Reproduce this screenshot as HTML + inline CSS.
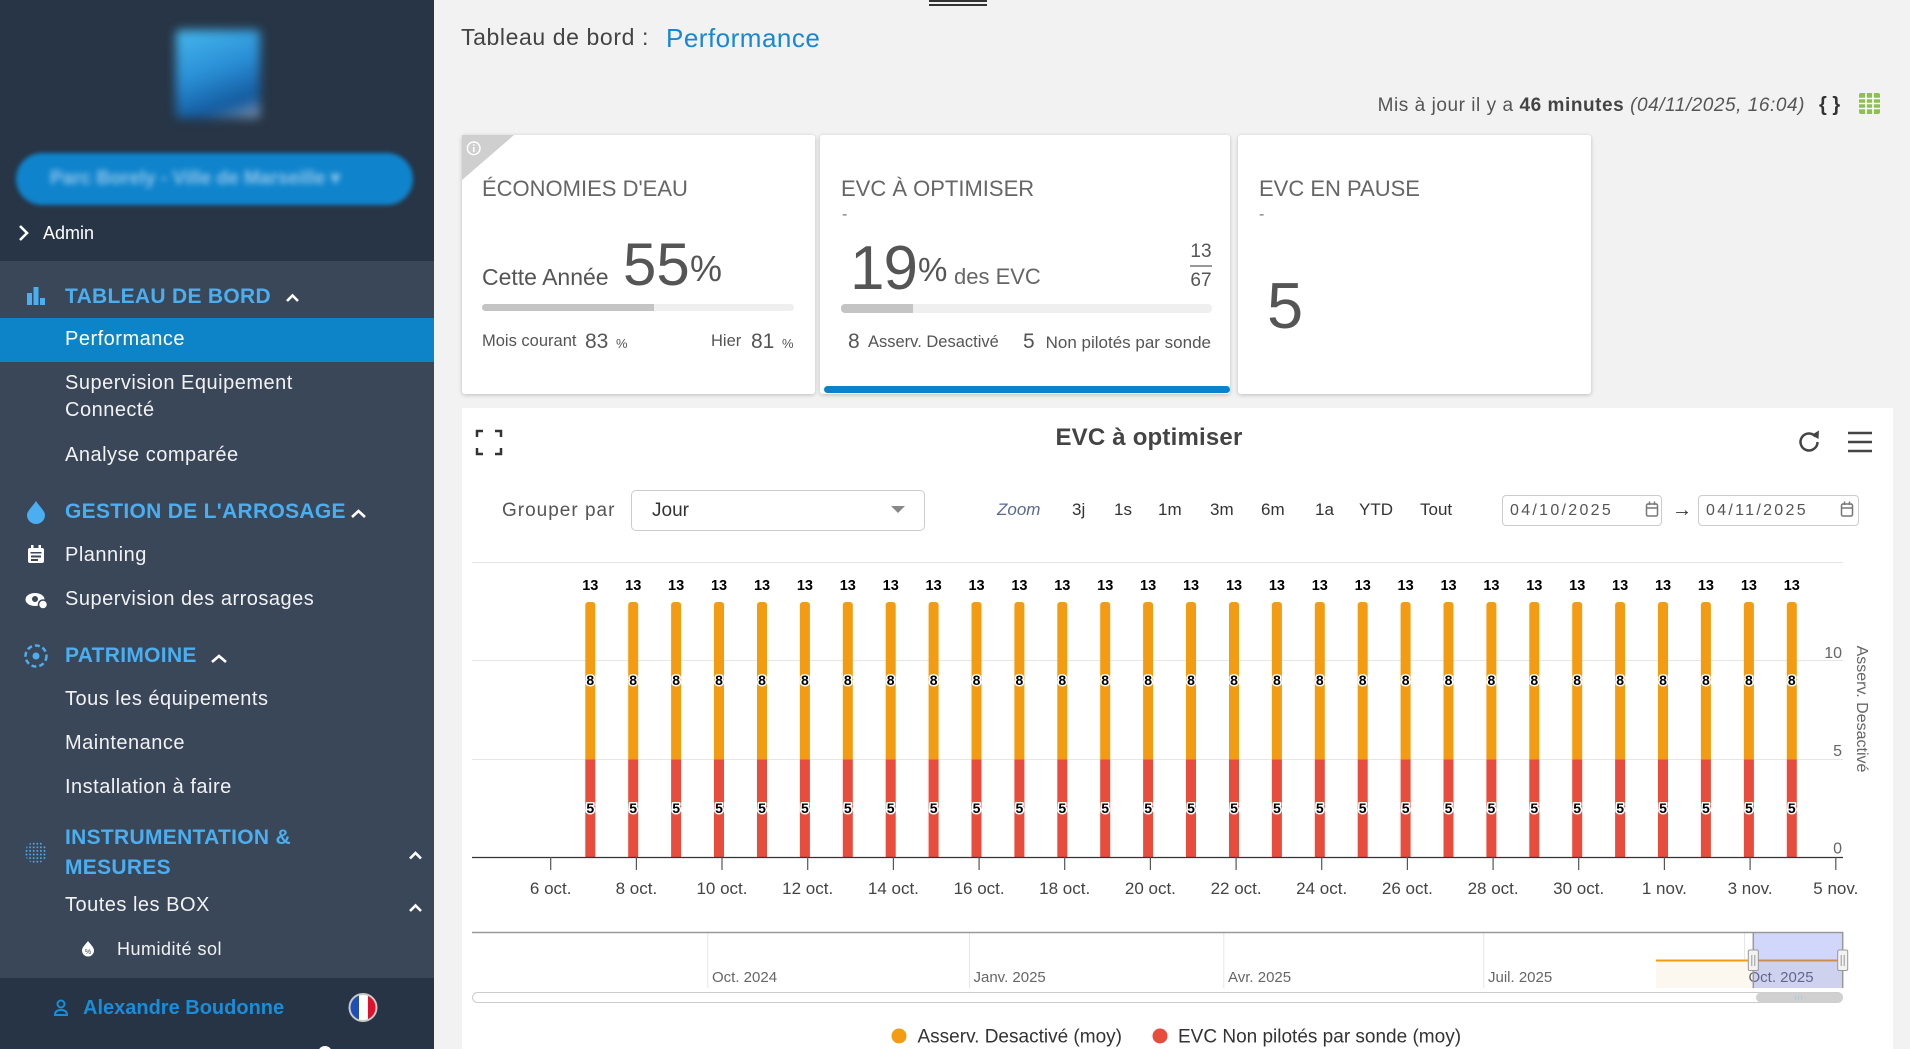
<!DOCTYPE html>
<html><head><meta charset="utf-8">
<style>
*{box-sizing:border-box}
body{margin:0;width:1910px;height:1049px;overflow:hidden;background:#f2f2f2;position:relative;font-family:"Liberation Sans",sans-serif}
.t{position:absolute;line-height:1;white-space:nowrap}
.sb{color:#f2f2f2;font-size:20px;letter-spacing:0.5px;left:65px}
.hd{color:#4aaef0;font-size:21px;font-weight:bold;letter-spacing:0.3px;left:65px}
.card{position:absolute;background:#fff;border-radius:3px;box-shadow:0 1px 4px rgba(0,0,0,0.22)}
.ct{color:#666;font-size:22px}
.z{font-size:17px;color:#333;top:501px}
.box{position:absolute;background:#fff;border:1px solid #ccc;border-radius:5px}
</style></head><body>

<!-- SIDEBAR -->
<div style="position:absolute;left:0;top:0;width:434px;height:1049px;background:#3a4759"></div>
<div style="position:absolute;left:0;top:0;width:434px;height:261px;background:#273546"></div>
<div style="position:absolute;left:0;top:978px;width:434px;height:71px;background:#263445"></div>
<div style="position:absolute;left:0;top:318px;width:434px;height:44px;background:#0d84c8"></div>

<!-- blurred logo -->
<div style="position:absolute;left:176px;top:30px;width:84px;height:88px;background:linear-gradient(160deg,#46b8ee 0%,#2a8fd6 45%,#135a9e 80%,#8a9ab0 100%);filter:blur(5px);border-radius:4px"></div>
<!-- blurred pill -->
<div style="position:absolute;left:16px;top:153px;width:397px;height:52px;background:#0f84cc;border-radius:26px;filter:blur(2px)"></div>
<div class="t" style="left:50px;top:169px;font-size:19px;font-weight:bold;color:rgba(230,240,255,0.6);filter:blur(3px)">Parc Borely - Ville de Marseille ▾</div>

<div class="t" style="left:43px;top:224px;font-size:18px;color:#fff">Admin</div>
<div class="t hd" style="top:286px">TABLEAU DE BORD</div>
<div class="t sb" style="top:329px;color:#fff">Performance</div>
<div class="t sb" style="top:373px">Supervision Equipement</div>
<div class="t sb" style="top:400px">Connecté</div>
<div class="t sb" style="top:445px">Analyse comparée</div>
<div class="t hd" style="top:501px">GESTION DE L'ARROSAGE</div>
<div class="t sb" style="top:545px">Planning</div>
<div class="t sb" style="top:589px">Supervision des arrosages</div>
<div class="t hd" style="top:645px">PATRIMOINE</div>
<div class="t sb" style="top:689px">Tous les équipements</div>
<div class="t sb" style="top:733px">Maintenance</div>
<div class="t sb" style="top:776.5px">Installation à faire</div>
<div class="t hd" style="top:827px">INSTRUMENTATION &amp;</div>
<div class="t hd" style="top:856.5px">MESURES</div>
<div class="t sb" style="top:895px">Toutes les BOX</div>
<div class="t" style="left:117px;top:940px;font-size:18px;letter-spacing:0.5px;color:#f2f2f2">Humidité sol</div>
<div class="t" style="left:83px;top:998px;font-size:20px;font-weight:bold;color:#1a8dd8">Alexandre Boudonne</div>

<svg style="position:absolute;left:0;top:0" width="434" height="1049">
<defs>
<pattern id="dots" width="3.6" height="3.6" patternUnits="userSpaceOnUse"><circle cx="1.3" cy="1.3" r="0.95" fill="#4aaef0"/></pattern>
<clipPath id="flag"><circle cx="363" cy="1007.5" r="13.5"/></clipPath>
</defs>
<polyline points="20,226 27,233 20,240" stroke="#fff" stroke-width="2.6" fill="none"/>
<rect x="27" y="293" width="5" height="12" fill="#4aaef0"/><rect x="33.5" y="287" width="5" height="18" fill="#4aaef0"/><rect x="40" y="298" width="5" height="7" fill="#4aaef0"/>
<polyline points="287,301 292.5,295.5 298,301" stroke="#fff" stroke-width="2.6" fill="none"/>
<path d="M36 501 C33 506 27 511 27 515 A9 9 0 0 0 45 515 C45 511 39 506 36 501Z" fill="#4aaef0"/>
<polyline points="352,517 358.5,511 365,517" stroke="#fff" stroke-width="2.6" fill="none"/>
<g transform="translate(0 2)">
<rect x="28" y="546" width="16" height="15" rx="2" fill="#fff"/><rect x="31" y="543" width="2.5" height="5" fill="#fff"/><rect x="38.5" y="543" width="2.5" height="5" fill="#fff"/>
<rect x="30.5" y="550" width="11" height="1.5" fill="#3a4759"/><rect x="31" y="553.5" width="10" height="2" fill="#3a4759"/><rect x="31" y="557" width="7" height="2" fill="#3a4759"/>
</g>
<g transform="translate(0 4.5)">
<ellipse cx="35" cy="595" rx="9.5" ry="6.5" fill="#fff"/><circle cx="35" cy="594.5" r="3" fill="#3a4759"/><circle cx="43" cy="600" r="4.5" fill="#fff" stroke="#3a4759" stroke-width="1.5"/>
</g>
<circle cx="36" cy="656" r="10.5" stroke="#4aaef0" stroke-width="2.5" stroke-dasharray="5 3" fill="none"/><circle cx="36" cy="656" r="3.5" fill="#4aaef0"/>
<polyline points="212,662 219,656 226,662" stroke="#fff" stroke-width="2.6" fill="none"/>
<circle cx="36" cy="852.5" r="11" fill="url(#dots)"/>
<polyline points="410,858.5 415.5,853 421,858.5" stroke="#fff" stroke-width="2.6" fill="none"/>
<polyline points="410,911 415.5,905.5 421,911" stroke="#fff" stroke-width="2.6" fill="none"/>
<path d="M88 941 C86 944 82 947 82 950.5 A6 6 0 0 0 94 950.5 C94 947 90 944 88 941Z" fill="#fff"/>
<text x="88" y="954" font-size="7" font-family="Liberation Sans" text-anchor="middle" fill="#3a4759">%</text>
<circle cx="61" cy="1004" r="3.5" stroke="#1a8dd8" stroke-width="2" fill="none"/><path d="M55 1015 Q55 1010 61 1010 Q67 1010 67 1015 Z" stroke="#1a8dd8" stroke-width="2" fill="none"/>
<g clip-path="url(#flag)"><rect x="349" y="993" width="10" height="29" fill="#1f4fb5"/><rect x="359" y="993" width="9" height="29" fill="#fff"/><rect x="368" y="993" width="10" height="29" fill="#e0112b"/></g>
<circle cx="363" cy="1007.5" r="13.5" stroke="#c8c8c8" stroke-width="2" fill="none"/>
<circle cx="325" cy="1053" r="7" fill="#fff"/>
</svg>

<!-- MAIN HEADER -->
<div style="position:absolute;left:929px;top:0;width:58px;height:2px;background:#333"></div>
<div style="position:absolute;left:929px;top:4px;width:58px;height:1.5px;background:#333"></div>
<div class="t" style="left:461px;top:26px;font-size:23px;letter-spacing:0.6px;color:#444">Tableau de bord :</div>
<div class="t" style="left:666px;top:25px;font-size:26px;letter-spacing:0.5px;color:#1788d3">Performance</div>
<div class="t" style="right:105px;top:96px;font-size:19px;letter-spacing:0.55px;color:#555">Mis à jour il y a <b style="color:#444">46 minutes</b> <i>(04/11/2025, 16:04)</i></div>
<div class="t" style="left:1819px;top:95px;font-size:20px;font-weight:bold;color:#333">{ }</div>
<svg style="position:absolute;left:1859px;top:93px" width="22" height="22">
<rect x="0" y="0" width="21" height="21" rx="2" fill="#8cc152"/>
<path d="M7 0V21M14 0V21M0 5.5H21M0 10.5H21M0 15.5H21" stroke="#fff" stroke-width="1.6"/>
</svg>

<!-- CARD 1 -->
<div class="card" style="left:462px;top:135px;width:353px;height:259px"></div>
<svg style="position:absolute;left:462px;top:135px" width="60" height="50">
<polygon points="0,0 52,0 0,45" fill="#cfcfcf"/>
<circle cx="11.7" cy="13.3" r="6.3" stroke="#fff" stroke-width="1.5" fill="none"/>
<rect x="11" y="12" width="1.5" height="5" fill="#fff"/><rect x="11" y="9.3" width="1.5" height="1.5" fill="#fff"/>
</svg>
<div class="t ct" style="left:482px;top:178px">ÉCONOMIES D'EAU</div>
<div class="t" style="left:482px;top:265.5px;font-size:23px;color:#555">Cette Année</div>
<div class="t" style="left:623px;top:235px;font-size:60px;color:#555">55</div>
<div class="t" style="left:690px;top:251px;font-size:36px;color:#555">%</div>
<div style="position:absolute;left:482px;top:303.5px;width:312px;height:7.5px;border-radius:4px;background:#efefef"><div style="width:172px;height:7.5px;border-radius:4px 0 0 4px;background:#c4c4c4"></div></div>
<div class="t" style="left:482px;top:333px;font-size:16.5px;color:#555">Mois courant</div>
<div class="t" style="left:585px;top:330.5px;font-size:21px;color:#555">83</div>
<div class="t" style="left:616px;top:337px;font-size:13px;color:#555">%</div>
<div class="t" style="left:711px;top:333px;font-size:16.5px;color:#555">Hier</div>
<div class="t" style="left:751px;top:330.5px;font-size:21px;color:#555">81</div>
<div class="t" style="left:782px;top:337px;font-size:13px;color:#555">%</div>

<!-- CARD 2 -->
<div class="card" style="left:820px;top:135px;width:410px;height:259px"></div>
<div class="t ct" style="left:841px;top:178px">EVC À OPTIMISER</div>
<div class="t" style="left:842px;top:207px;font-size:16px;color:#777">-</div>
<div class="t" style="left:850px;top:237.5px;font-size:62px;color:#555;letter-spacing:-1px">19</div>
<div class="t" style="left:918px;top:253px;font-size:33px;color:#555">%</div>
<div class="t" style="left:954px;top:266px;font-size:22px;color:#666">des EVC</div>
<div class="t" style="left:1190px;top:242px;width:22px;text-align:center;font-size:19px;color:#555">13</div>
<div style="position:absolute;left:1190px;top:264.5px;width:22px;height:2px;background:#999"></div>
<div class="t" style="left:1190px;top:270.5px;width:22px;text-align:center;font-size:19px;color:#555">67</div>
<div style="position:absolute;left:841px;top:304px;width:370.5px;height:8.5px;border-radius:4px;background:#efefef"><div style="width:72px;height:8.5px;border-radius:4px 0 0 4px;background:#c4c4c4"></div></div>
<div class="t" style="left:848px;top:331px;font-size:21px;color:#555">8</div>
<div class="t" style="left:868px;top:334px;font-size:16.5px;color:#555">Asserv. Desactivé</div>
<div class="t" style="left:1023px;top:331px;font-size:21px;color:#555">5</div>
<div class="t" style="right:699px;top:334px;font-size:17px;color:#555">Non pilotés par sonde</div>
<div style="position:absolute;left:824px;top:386px;width:406px;height:7px;border-radius:4px;background:#0b83c9"></div>

<!-- CARD 3 -->
<div class="card" style="left:1238px;top:135px;width:353px;height:259px"></div>
<div class="t ct" style="left:1259px;top:178px">EVC EN PAUSE</div>
<div class="t" style="left:1259px;top:207px;font-size:16px;color:#777">-</div>
<div class="t" style="left:1267px;top:273px;font-size:65px;color:#555">5</div>

<!-- CHART PANEL -->
<div style="position:absolute;left:462px;top:408px;width:1431px;height:641px;background:#fff"></div>
<div class="t" style="left:1149px;top:426px;transform:translateX(-50%);font-size:24px;font-weight:bold;color:#444;letter-spacing:0.2px">EVC à optimiser</div>

<div class="t" style="left:502px;top:501px;font-size:19px;letter-spacing:1px;color:#555">Grouper par</div>
<div class="box" style="left:631px;top:490px;width:294px;height:41px"></div>
<div class="t" style="left:652px;top:501px;font-size:19px;color:#333">Jour</div>
<svg style="position:absolute;left:891px;top:506px" width="15" height="8"><polygon points="0,0 14,0 7,7" fill="#888"/></svg>

<div class="t z" style="left:997px;font-style:italic;color:#5b6a8e">Zoom</div>
<div class="t z" style="left:1072px">3j</div>
<div class="t z" style="left:1114px">1s</div>
<div class="t z" style="left:1158px">1m</div>
<div class="t z" style="left:1210px">3m</div>
<div class="t z" style="left:1261px">6m</div>
<div class="t z" style="left:1315px">1a</div>
<div class="t z" style="left:1359px">YTD</div>
<div class="t z" style="left:1420px">Tout</div>

<div class="box" style="left:1502px;top:494.5px;width:160px;height:31px;border-radius:4px"></div>
<div class="t" style="left:1510px;top:503px;font-size:16px;letter-spacing:2.3px;color:#555">04/10/2025</div>
<div class="t" style="left:1672px;top:500px;font-size:20px;color:#333">→</div>
<div class="box" style="left:1698px;top:494.5px;width:161px;height:31px;border-radius:4px"></div>
<div class="t" style="left:1706px;top:503px;font-size:16px;letter-spacing:2.3px;color:#555">04/11/2025</div>

<svg style="position:absolute;left:0;top:0" width="1910" height="1049">
<style>
text{font-family:"Liberation Sans",sans-serif}
.a{font-size:14.5px;font-weight:bold;text-anchor:middle;fill:#000}
.b{font-size:14px;font-weight:bold;text-anchor:middle;fill:#000;stroke:#fff;stroke-width:3px;paint-order:stroke;stroke-linejoin:round}
.x{font-size:17px;text-anchor:middle;fill:#444}
.y{font-size:16px;text-anchor:end;fill:#666}
.n{font-size:15px;fill:#666}
</style>
<!-- date input icons -->
<g fill="none" stroke="#777" stroke-width="1.5">
<rect x="1646.5" y="504" width="11" height="12" rx="1.5"/><path d="M1646.5 508H1657.5M1649.5 501.5V505M1654.5 501.5V505"/>
<rect x="1841.5" y="504" width="11" height="12" rx="1.5"/><path d="M1841.5 508H1852.5M1844.5 501.5V505M1849.5 501.5V505"/>
</g>
<!-- header icons -->
<path d="M477 437V431H483M495 431H501V437M501 448V454H495M483 454H477V448" stroke="#333" stroke-width="2.5" fill="none"/>
<path d="M1815.5 436.5A8.5 8.5 0 1 0 1817.5 442" stroke="#444" stroke-width="2.5" fill="none"/>
<polygon points="1811.5,435 1819,430.5 1818.5,439" fill="#444"/>
<path d="M1848 433H1872M1848 442H1872M1848 451H1872" stroke="#444" stroke-width="2.5"/>

<!-- grid -->
<path d="M472 562.5H1843M472 660.5H1843M472 759.5H1843" stroke="#e6e6e6" stroke-width="1"/>

<!-- bars -->
<g transform="translate(590.3 0)"><rect x="-5" y="602" width="10" height="160" rx="3" fill="#f39c12"/><rect x="-5" y="759.5" width="10" height="97.5" fill="#e74c3c"/><text class="a" y="590">13</text><text class="b" y="685">8</text><text class="b" y="813">5</text></g>
<g transform="translate(633.2 0)"><rect x="-5" y="602" width="10" height="160" rx="3" fill="#f39c12"/><rect x="-5" y="759.5" width="10" height="97.5" fill="#e74c3c"/><text class="a" y="590">13</text><text class="b" y="685">8</text><text class="b" y="813">5</text></g>
<g transform="translate(676.1 0)"><rect x="-5" y="602" width="10" height="160" rx="3" fill="#f39c12"/><rect x="-5" y="759.5" width="10" height="97.5" fill="#e74c3c"/><text class="a" y="590">13</text><text class="b" y="685">8</text><text class="b" y="813">5</text></g>
<g transform="translate(719.0 0)"><rect x="-5" y="602" width="10" height="160" rx="3" fill="#f39c12"/><rect x="-5" y="759.5" width="10" height="97.5" fill="#e74c3c"/><text class="a" y="590">13</text><text class="b" y="685">8</text><text class="b" y="813">5</text></g>
<g transform="translate(762.0 0)"><rect x="-5" y="602" width="10" height="160" rx="3" fill="#f39c12"/><rect x="-5" y="759.5" width="10" height="97.5" fill="#e74c3c"/><text class="a" y="590">13</text><text class="b" y="685">8</text><text class="b" y="813">5</text></g>
<g transform="translate(804.9 0)"><rect x="-5" y="602" width="10" height="160" rx="3" fill="#f39c12"/><rect x="-5" y="759.5" width="10" height="97.5" fill="#e74c3c"/><text class="a" y="590">13</text><text class="b" y="685">8</text><text class="b" y="813">5</text></g>
<g transform="translate(847.8 0)"><rect x="-5" y="602" width="10" height="160" rx="3" fill="#f39c12"/><rect x="-5" y="759.5" width="10" height="97.5" fill="#e74c3c"/><text class="a" y="590">13</text><text class="b" y="685">8</text><text class="b" y="813">5</text></g>
<g transform="translate(890.7 0)"><rect x="-5" y="602" width="10" height="160" rx="3" fill="#f39c12"/><rect x="-5" y="759.5" width="10" height="97.5" fill="#e74c3c"/><text class="a" y="590">13</text><text class="b" y="685">8</text><text class="b" y="813">5</text></g>
<g transform="translate(933.6 0)"><rect x="-5" y="602" width="10" height="160" rx="3" fill="#f39c12"/><rect x="-5" y="759.5" width="10" height="97.5" fill="#e74c3c"/><text class="a" y="590">13</text><text class="b" y="685">8</text><text class="b" y="813">5</text></g>
<g transform="translate(976.5 0)"><rect x="-5" y="602" width="10" height="160" rx="3" fill="#f39c12"/><rect x="-5" y="759.5" width="10" height="97.5" fill="#e74c3c"/><text class="a" y="590">13</text><text class="b" y="685">8</text><text class="b" y="813">5</text></g>
<g transform="translate(1019.4 0)"><rect x="-5" y="602" width="10" height="160" rx="3" fill="#f39c12"/><rect x="-5" y="759.5" width="10" height="97.5" fill="#e74c3c"/><text class="a" y="590">13</text><text class="b" y="685">8</text><text class="b" y="813">5</text></g>
<g transform="translate(1062.3 0)"><rect x="-5" y="602" width="10" height="160" rx="3" fill="#f39c12"/><rect x="-5" y="759.5" width="10" height="97.5" fill="#e74c3c"/><text class="a" y="590">13</text><text class="b" y="685">8</text><text class="b" y="813">5</text></g>
<g transform="translate(1105.2 0)"><rect x="-5" y="602" width="10" height="160" rx="3" fill="#f39c12"/><rect x="-5" y="759.5" width="10" height="97.5" fill="#e74c3c"/><text class="a" y="590">13</text><text class="b" y="685">8</text><text class="b" y="813">5</text></g>
<g transform="translate(1148.1 0)"><rect x="-5" y="602" width="10" height="160" rx="3" fill="#f39c12"/><rect x="-5" y="759.5" width="10" height="97.5" fill="#e74c3c"/><text class="a" y="590">13</text><text class="b" y="685">8</text><text class="b" y="813">5</text></g>
<g transform="translate(1191.0 0)"><rect x="-5" y="602" width="10" height="160" rx="3" fill="#f39c12"/><rect x="-5" y="759.5" width="10" height="97.5" fill="#e74c3c"/><text class="a" y="590">13</text><text class="b" y="685">8</text><text class="b" y="813">5</text></g>
<g transform="translate(1234.0 0)"><rect x="-5" y="602" width="10" height="160" rx="3" fill="#f39c12"/><rect x="-5" y="759.5" width="10" height="97.5" fill="#e74c3c"/><text class="a" y="590">13</text><text class="b" y="685">8</text><text class="b" y="813">5</text></g>
<g transform="translate(1276.9 0)"><rect x="-5" y="602" width="10" height="160" rx="3" fill="#f39c12"/><rect x="-5" y="759.5" width="10" height="97.5" fill="#e74c3c"/><text class="a" y="590">13</text><text class="b" y="685">8</text><text class="b" y="813">5</text></g>
<g transform="translate(1319.8 0)"><rect x="-5" y="602" width="10" height="160" rx="3" fill="#f39c12"/><rect x="-5" y="759.5" width="10" height="97.5" fill="#e74c3c"/><text class="a" y="590">13</text><text class="b" y="685">8</text><text class="b" y="813">5</text></g>
<g transform="translate(1362.7 0)"><rect x="-5" y="602" width="10" height="160" rx="3" fill="#f39c12"/><rect x="-5" y="759.5" width="10" height="97.5" fill="#e74c3c"/><text class="a" y="590">13</text><text class="b" y="685">8</text><text class="b" y="813">5</text></g>
<g transform="translate(1405.6 0)"><rect x="-5" y="602" width="10" height="160" rx="3" fill="#f39c12"/><rect x="-5" y="759.5" width="10" height="97.5" fill="#e74c3c"/><text class="a" y="590">13</text><text class="b" y="685">8</text><text class="b" y="813">5</text></g>
<g transform="translate(1448.5 0)"><rect x="-5" y="602" width="10" height="160" rx="3" fill="#f39c12"/><rect x="-5" y="759.5" width="10" height="97.5" fill="#e74c3c"/><text class="a" y="590">13</text><text class="b" y="685">8</text><text class="b" y="813">5</text></g>
<g transform="translate(1491.4 0)"><rect x="-5" y="602" width="10" height="160" rx="3" fill="#f39c12"/><rect x="-5" y="759.5" width="10" height="97.5" fill="#e74c3c"/><text class="a" y="590">13</text><text class="b" y="685">8</text><text class="b" y="813">5</text></g>
<g transform="translate(1534.3 0)"><rect x="-5" y="602" width="10" height="160" rx="3" fill="#f39c12"/><rect x="-5" y="759.5" width="10" height="97.5" fill="#e74c3c"/><text class="a" y="590">13</text><text class="b" y="685">8</text><text class="b" y="813">5</text></g>
<g transform="translate(1577.2 0)"><rect x="-5" y="602" width="10" height="160" rx="3" fill="#f39c12"/><rect x="-5" y="759.5" width="10" height="97.5" fill="#e74c3c"/><text class="a" y="590">13</text><text class="b" y="685">8</text><text class="b" y="813">5</text></g>
<g transform="translate(1620.1 0)"><rect x="-5" y="602" width="10" height="160" rx="3" fill="#f39c12"/><rect x="-5" y="759.5" width="10" height="97.5" fill="#e74c3c"/><text class="a" y="590">13</text><text class="b" y="685">8</text><text class="b" y="813">5</text></g>
<g transform="translate(1663.0 0)"><rect x="-5" y="602" width="10" height="160" rx="3" fill="#f39c12"/><rect x="-5" y="759.5" width="10" height="97.5" fill="#e74c3c"/><text class="a" y="590">13</text><text class="b" y="685">8</text><text class="b" y="813">5</text></g>
<g transform="translate(1705.9 0)"><rect x="-5" y="602" width="10" height="160" rx="3" fill="#f39c12"/><rect x="-5" y="759.5" width="10" height="97.5" fill="#e74c3c"/><text class="a" y="590">13</text><text class="b" y="685">8</text><text class="b" y="813">5</text></g>
<g transform="translate(1748.9 0)"><rect x="-5" y="602" width="10" height="160" rx="3" fill="#f39c12"/><rect x="-5" y="759.5" width="10" height="97.5" fill="#e74c3c"/><text class="a" y="590">13</text><text class="b" y="685">8</text><text class="b" y="813">5</text></g>
<g transform="translate(1791.8 0)"><rect x="-5" y="602" width="10" height="160" rx="3" fill="#f39c12"/><rect x="-5" y="759.5" width="10" height="97.5" fill="#e74c3c"/><text class="a" y="590">13</text><text class="b" y="685">8</text><text class="b" y="813">5</text></g>

<!-- axis -->
<path d="M472 857.5H1843" stroke="#333" stroke-width="1.2"/>
<path d="M550.7 857V870M636.4 857V870M722 857V870M807.7 857V870M893.4 857V870M979.1 857V870M1064.7 857V870M1150.4 857V870M1236.1 857V870M1321.7 857V870M1407.4 857V870M1493.1 857V870M1578.7 857V870M1664.4 857V870M1750.1 857V870M1835.8 857V870" stroke="#555" stroke-width="1.2"/>
<text class="x" x="550.7" y="894">6 oct.</text>
<text class="x" x="636.4" y="894">8 oct.</text>
<text class="x" x="722" y="894">10 oct.</text>
<text class="x" x="807.7" y="894">12 oct.</text>
<text class="x" x="893.4" y="894">14 oct.</text>
<text class="x" x="979.1" y="894">16 oct.</text>
<text class="x" x="1064.7" y="894">18 oct.</text>
<text class="x" x="1150.4" y="894">20 oct.</text>
<text class="x" x="1236.1" y="894">22 oct.</text>
<text class="x" x="1321.7" y="894">24 oct.</text>
<text class="x" x="1407.4" y="894">26 oct.</text>
<text class="x" x="1493.1" y="894">28 oct.</text>
<text class="x" x="1578.7" y="894">30 oct.</text>
<text class="x" x="1664.4" y="894">1 nov.</text>
<text class="x" x="1750.1" y="894">3 nov.</text>
<text class="x" x="1835.8" y="894">5 nov.</text>
<text class="y" x="1842" y="658">10</text>
<text class="y" x="1842" y="756">5</text>
<text class="y" x="1842" y="853.5">0</text>
<text transform="translate(1857 709) rotate(90)" font-size="16" fill="#666" text-anchor="middle">Asserv. Desactivé</text>

<!-- navigator -->
<path d="M707.8 933V988M969.5 933V988M1223.8 933V988M1483.7 933V988M1744.5 933V988" stroke="#e6e6e6"/>
<text class="n" x="712" y="982">Oct. 2024</text>
<text class="n" x="973.5" y="982">Janv. 2025</text>
<text class="n" x="1228" y="982">Avr. 2025</text>
<text class="n" x="1488" y="982">Juil. 2025</text>
<rect x="1656" y="961" width="187" height="27" fill="#fdf8ef"/>
<path d="M1656 960.5H1843" stroke="#f39c12" stroke-width="2"/>
<text class="n" x="1748.5" y="982">Oct. 2025</text>
<rect x="1753.3" y="933" width="89.4" height="55" fill="rgba(90,110,240,0.28)"/>
<path d="M472 932.5H1843M1753.3 932V988M1842.7 932V988" stroke="#999" stroke-width="1.5" fill="none"/>
<rect x="1748.3" y="950" width="10" height="20.5" rx="1.5" fill="#f2f2f2" stroke="#999"/>
<path d="M1751.8 955V966M1754.8 955V966" stroke="#999"/>
<rect x="1837.7" y="950" width="10" height="20.5" rx="1.5" fill="#f2f2f2" stroke="#999"/>
<path d="M1841.2 955V966M1844.2 955V966" stroke="#999"/>
<!-- scrollbar -->
<rect x="472.5" y="992.5" width="1370" height="10" rx="5" fill="#fff" stroke="#ccc"/>
<rect x="1756" y="992.5" width="87" height="10" rx="5" fill="#d0d0d0"/>
<path d="M1795.5 995.5V999.5M1798.5 995.5V999.5M1801.5 995.5V999.5" stroke="#9ccfe8"/>

<!-- legend -->
<circle cx="899" cy="1036" r="7.5" fill="#f39c12"/>
<text x="917.5" y="1042.5" font-size="19" fill="#333">Asserv. Desactivé (moy)</text>
<circle cx="1160" cy="1036" r="7.5" fill="#e74c3c"/>
<text x="1178" y="1042.5" font-size="19" fill="#333">EVC Non pilotés par sonde (moy)</text>
</svg>

</body></html>
